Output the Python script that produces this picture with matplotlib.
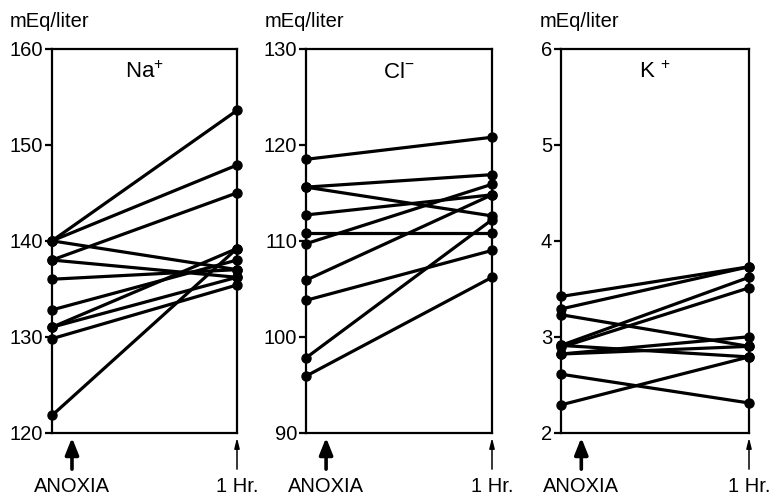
import matplotlib
matplotlib.use("Agg")
import matplotlib.pyplot as plt
from matplotlib.transforms import blended_transform_factory

plt.rcParams["font.family"] = ["Liberation Sans", "DejaVu Sans"]
plt.rcParams["mathtext.fontset"] = "custom"
plt.rcParams["mathtext.rm"] = "Liberation Sans"
plt.rcParams["mathtext.it"] = "Liberation Sans"

# values: (before anoxia, 1 hr after)
NA_START = [140.0, 140.0, 140.0, 138.0, 138.0, 136.0, 132.8, 131.0, 131.0, 129.8, 121.8]
NA_END = [153.6, 147.9, 137.0, 145.0, 136.2, 137.0, 138.0, 139.2, 136.2, 135.4, 139.2]

CL_START = [118.5, 115.6, 115.6, 112.7, 110.8, 109.7, 105.9, 103.8, 97.8, 95.9]
CL_END = [120.8, 116.9, 112.6, 114.8, 110.8, 115.9, 114.8, 109.0, 112.2, 106.2]

K_START = [3.42, 3.29, 3.23, 2.91, 2.89, 2.82, 2.82, 2.91, 2.61, 2.29]
K_END = [3.73, 3.73, 2.90, 3.62, 3.51, 3.00, 2.90, 2.79, 2.31, 2.79]

PANELS = [
    ("Na$^{+}$", NA_START, NA_END, (120, 160), [120, 130, 140, 150, 160]),
    ("Cl$^{-}$", CL_START, CL_END, (90, 130), [90, 100, 110, 120, 130]),
    ("K $^{+}$", K_START, K_END, (2, 6), [2, 3, 4, 5, 6]),
]

W, H = 773, 496
# axes boxes in pixels: left, right
BOXES = [(52, 237), (306, 492), (561, 749)]
TOP, BOTTOM = 49, 432.7
UNIT_X = [-42, -41, -21]  # "mEq/liter" offset from axis, px

fig = plt.figure(figsize=(W / 100, H / 100), dpi=100)

for (title, start, end, ylim, ticks), (x0, x1), ux in zip(PANELS, BOXES, UNIT_X):
    ax = fig.add_axes([x0 / W, (H - BOTTOM) / H, (x1 - x0) / W, (BOTTOM - TOP) / H])
    for a, b in zip(start, end):
        ax.plot([0, 1], [a, b], color="black", linewidth=2.3, marker="o",
                markersize=6.5, clip_on=False, solid_capstyle="round", zorder=3)
    ax.set_xlim(0, 1)
    ax.set_ylim(*ylim)
    ax.set_yticks(ticks)
    ax.set_xticks([])
    for s in ax.spines.values():
        s.set_linewidth(1.6)
        s.set_color("black")
    ax.tick_params(axis="y", direction="out", length=5, width=1.6,
                   labelsize=14.5, pad=1.5)

    ax.text(0.5, 0.94, title, transform=ax.transAxes, ha="center", va="center",
            fontsize=16)
    ax.annotate("mEq/liter", xy=(0, 1), xycoords="axes fraction",
                xytext=(ux * 0.72, 19.5), textcoords="offset points",
                ha="left", va="center", fontsize=14.5)

    tr = blended_transform_factory(ax.transData, ax.transAxes)
    # thick arrow under the anoxia point
    ax.annotate("", xy=(0.108, -0.013), xycoords=tr, xytext=(0.108, -0.095),
                textcoords=tr,
                arrowprops=dict(arrowstyle="-|>,head_width=0.4,head_length=1.0",
                                color="black", lw=2.6, shrinkA=0, shrinkB=0))
    # thin arrow under the 1 hr point
    ax.annotate("", xy=(1, -0.013), xycoords=tr, xytext=(1, -0.095),
                textcoords=tr,
                arrowprops=dict(arrowstyle="-|>,head_width=0.15,head_length=0.6",
                                color="black", lw=1.1, shrinkA=0, shrinkB=0))
    ax.text(0.108, -0.14, "ANOXIA", transform=tr, ha="center", va="center",
            fontsize=14.5)
    ax.text(1.0, -0.14, "1 Hr.", transform=tr, ha="center", va="center",
            fontsize=14.5)

fig.savefig("out.png", dpi=100, facecolor="white")
